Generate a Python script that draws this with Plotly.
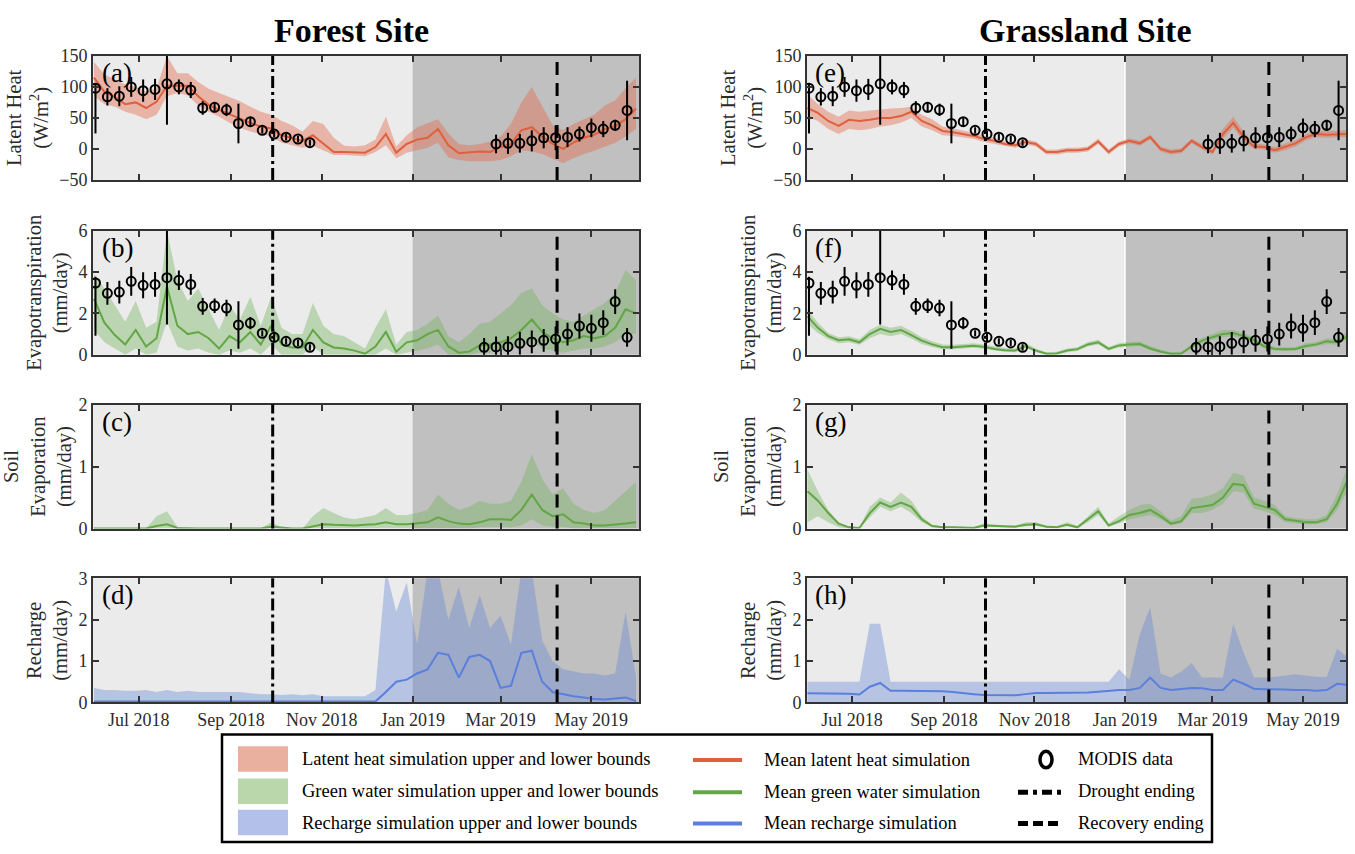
import plotly.graph_objects as go
import pandas as pd

W, H = 1355, 854
SERIF = "Liberation Serif, Times New Roman, serif"
TXT = "#2b2b2b"

# ---------------- dates ----------------
sim_dates = pd.date_range("2018-06-01", periods=53, freq="7D")
modis_dates_2018 = pd.date_range("2018-06-02", periods=19, freq="8D")
modis_le_dates_2019 = pd.date_range("2019-02-26", periods=12, freq="8D")
modis_et_dates_2019 = pd.date_range("2019-02-18", periods=13, freq="8D")
drought_end = "2018-09-29"
recovery_end = "2019-04-08"
wet_start = "2019-01-01"

# ---------------- MODIS data ----------------
modis_le = [98, 84, 85, 100, 94, 96, 105, 100, 95, 66, 67, 63, 41, 44, 30, 24, 19, 16, 10,
            8, 9, 9, 13, 18, 18, 19, 24, 34, 32, 38, 62]
modis_le_err_plus = [8, 14, 16, 16, 18, 17, 66, 12, 13, 11, 8, 10, 32, 7, 5, 5, 5, 5, 5,
                     15, 17, 15, 17, 17, 20, 16, 12, 15, 13, 9, 48]
modis_le_err_minus = [73, 14, 16, 16, 18, 17, 66, 12, 13, 11, 8, 10, 32, 7, 5, 5, 5, 5, 5,
                      15, 17, 15, 17, 17, 20, 16, 12, 15, 13, 9, 48]
modis_et = [3.47, 2.97, 3.03, 3.55, 3.36, 3.4, 3.73, 3.6, 3.4, 2.34, 2.37, 2.26, 1.44, 1.53, 1.04, 0.84, 0.65, 0.57, 0.36,
            0.36, 0.38, 0.39, 0.55, 0.62, 0.7, 0.76, 1.0, 1.39, 1.28, 1.55, 2.57, 0.84]
modis_et_err_plus = [0.3, 0.55, 0.55, 0.7, 0.63, 0.6, 2.27, 0.47, 0.5, 0.4, 0.35, 0.4, 1.15, 0.3, 0.15, 0.25, 0.15, 0.15, 0.15,
                     0.45, 0.5, 0.5, 0.55, 0.55, 0.55, 0.6, 0.55, 0.6, 0.65, 0.6, 0.6, 0.45]
modis_et_err_minus = [2.55, 0.55, 0.55, 0.7, 0.63, 0.6, 2.27, 0.47, 0.5, 0.4, 0.35, 0.4, 1.15, 0.3, 0.15, 0.25, 0.15, 0.15, 0.15,
                      0.45, 0.5, 0.5, 0.55, 0.55, 0.55, 0.6, 0.55, 0.6, 0.65, 0.6, 0.6, 0.45]

# ---------------- Forest site simulations (weekly) ----------------
forest_le_mean = [115, 92, 84, 72, 75, 66, 76, 102, 102, 102, 85, 71, 63, 56, 48, 42, 36, 33, 22, 18,
                  13, 22, 8, -5, -5, -5, -6, 3, 24, -6, 8, 15, 18, 32, 6, -7, -6, -4, -5, 3,
                  8, 30, 35, 20, 8, 0, 10, 18, 23, 32, 37, 48, 65]
forest_le_upper = [140, 120, 112, 104, 100, 92, 98, 150, 122, 122, 108, 97, 90, 84, 77, 68, 60, 55, 45, 38,
                   28, 45, 40, 18, 5, 4, 6, 15, 52, 4, 22, 35, 42, 48, 25, 8, 6, 8, 12, 20,
                   40, 75, 100, 70, 38, 30, 40, 48, 55, 70, 78, 98, 115]
forest_le_lower = [85, 72, 68, 60, 55, 48, 55, 85, 90, 86, 70, 60, 52, 42, 34, 28, 24, 20, 10, 6,
                   2, 5, -2, -10, -10, -11, -12, -5, 6, -15, -6, -2, 2, 10, -14, -18, -20, -20, -20, -18,
                   -12, -2, -4, -8, -15, -23, -15, -8, -3, 3, 10, 20, 32]

forest_et_mean = [2.7, 1.55, 0.95, 0.5, 1.2, 0.4, 0.8, 3.3, 1.4, 1.0, 1.1, 0.8, 0.3, 0.9, 0.6, 1.1, 0.5, 1.4, 0.5, 0.35,
                  0.35, 1.2, 0.6, 0.35, 0.3, 0.2, 0.05, 0.4, 1.1, 0.15, 0.6, 0.7, 1.0, 1.2, 0.4, 0.1, 0.15, 0.45, 0.5, 0.6,
                  0.8, 1.2, 1.7, 1.1, 0.8, 0.6, 0.7, 0.9, 0.8, 0.9, 1.3, 2.2, 2.0]
forest_et_upper = [3.9, 3.2, 2.4, 1.6, 2.6, 1.3, 1.6, 6.0, 3.6, 2.6, 3.2, 2.2, 1.2, 2.4, 1.7, 2.8, 1.4, 2.8, 1.3, 1.0,
                   1.0, 2.5, 1.4, 1.0, 0.9, 0.6, 0.3, 1.3, 2.2, 0.5, 1.1, 1.2, 1.5, 1.9, 0.9, 0.6, 1.0, 1.5, 1.6, 2.0,
                   2.4, 3.0, 3.2, 2.4, 2.0, 1.7, 1.6, 1.9, 2.2, 2.5, 3.0, 4.1, 3.6]
forest_et_lower = [1.2, 0.6, 0.3, 0.0, 0.3, 0.0, 0.1, 1.6, 0.4, 0.2, 0.3, 0.1, 0.0, 0.2, 0.1, 0.3, 0.0, 0.5, 0.0, 0.0,
                   0.0, 0.4, 0.0, 0.0, 0.0, 0.0, 0.0, 0.0, 0.3, 0.0, 0.1, 0.2, 0.3, 0.5, 0.0, 0.0, 0.0, 0.1, 0.1, 0.2,
                   0.3, 0.4, 0.6, 0.3, 0.2, 0.1, 0.2, 0.3, 0.3, 0.4, 0.6, 1.0, 1.0]

forest_se_mean = [0, 0, 0, 0, 0, 0, 0.04, 0.07, 0.01, 0, 0, 0, 0, 0, 0, 0, 0, 0.03, 0.01, 0,
                  0, 0.04, 0.07, 0.06, 0.05, 0.05, 0.06, 0.07, 0.1, 0.07, 0.07, 0.08, 0.1, 0.18, 0.12, 0.08, 0.07, 0.1, 0.15, 0.15,
                  0.14, 0.3, 0.55, 0.3, 0.2, 0.23, 0.1, 0.08, 0.05, 0.05, 0.06, 0.08, 0.1]
forest_se_upper = [0, 0, 0, 0, 0, 0, 0.2, 0.28, 0.03, 0, 0, 0, 0, 0, 0, 0, 0, 0.1, 0.02, 0,
                   0, 0.2, 0.33, 0.25, 0.18, 0.15, 0.18, 0.22, 0.33, 0.22, 0.22, 0.25, 0.3, 0.55, 0.4, 0.3, 0.35, 0.45, 0.4, 0.4,
                   0.45, 0.75, 1.2, 0.8, 0.55, 0.65, 0.4, 0.3, 0.25, 0.3, 0.45, 0.6, 0.75]
forest_se_lower = [0, 0, 0, 0, 0, 0, 0, 0, 0, 0, 0, 0, 0, 0, 0, 0, 0, 0, 0, 0,
                   0, 0, 0, 0, 0, 0, 0, 0, 0, 0, 0, 0, 0, 0, 0, 0, 0, 0.02, 0.03, 0.03,
                   0.02, 0.05, 0.15, 0.05, 0.03, 0.03, 0, 0, 0, 0, 0, 0, 0]

forest_rc_mean = [0.02, 0.02, 0.02, 0.02, 0.02, 0.02, 0.02, 0.02, 0.02, 0.02, 0.02, 0.02, 0.02, 0.02, 0.02, 0.02, 0.02, 0.02, 0.02, 0.02,
                  0.02, 0.02, 0.02, 0.02, 0.02, 0.02, 0.02, 0.02, 0.25, 0.5, 0.55, 0.7, 0.8, 1.2, 1.15, 0.6, 1.1, 1.15, 1.0, 0.35,
                  0.4, 1.2, 1.25, 0.5, 0.25, 0.2, 0.15, 0.12, 0.08, 0.07, 0.1, 0.12, 0.03]
forest_rc_upper = [0.35, 0.3, 0.3, 0.28, 0.28, 0.3, 0.25, 0.3, 0.25, 0.28, 0.25, 0.25, 0.25, 0.25, 0.25, 0.22, 0.2, 0.2, 0.18, 0.2,
                   0.17, 0.2, 0.15, 0.15, 0.15, 0.15, 0.15, 0.3, 3.2, 2.2, 2.9, 1.4, 3.2, 3.2, 2.0, 2.8, 1.8, 2.6, 1.8, 2.1,
                   1.4, 3.2, 3.2, 1.5, 1.0, 0.8, 0.75, 0.7, 0.7, 0.65, 0.7, 2.2, 0.6]
forest_rc_lower = [0, 0, 0, 0, 0, 0, 0, 0, 0, 0, 0, 0, 0, 0, 0, 0, 0, 0, 0, 0,
                   0, 0, 0, 0, 0, 0, 0, 0, 0, 0, 0, 0, 0, 0, 0, 0, 0, 0, 0, 0,
                   0, 0, 0, 0, 0, 0, 0, 0, 0, 0, 0, 0, 0]

# ---------------- Grassland site simulations (weekly) ----------------
grass_le_mean = [66, 58, 45, 37, 47, 45, 47, 50, 50, 53, 60, 45, 38, 29, 27, 24, 21, 16, 13, 8,
                 6, 11, 8, -5, -5, -2, -2, 0, 12, -5, 8, 13, 9, 19, 0, -5, -3, 13, 3, -5,
                 24, 42, 19, 4, 3, -2, 3, 9, 19, 24, 23, 24, 24]
grass_le_upper = [88, 72, 60, 52, 62, 60, 62, 64, 65, 66, 68, 55, 48, 36, 33, 30, 26, 21, 18, 12,
                  10, 15, 12, -1, -1, 2, 2, 4, 17, -1, 12, 17, 13, 23, 4, -1, 1, 17, 7, -1,
                  32, 52, 28, 9, 7, 3, 8, 14, 24, 30, 29, 30, 30]
grass_le_lower = [52, 45, 32, 24, 32, 30, 32, 36, 38, 42, 50, 36, 30, 22, 21, 18, 16, 11, 8, 4,
                  2, 7, 4, -9, -9, -6, -6, -4, 8, -9, 4, 9, 5, 15, -4, -9, -7, 9, -1, -9,
                  16, 34, 12, 0, -1, -6, -2, 4, 14, 19, 18, 19, 19]

grass_et_mean = [1.86, 1.3, 0.9, 0.7, 0.75, 0.6, 1.0, 1.25, 1.1, 1.2, 0.95, 0.68, 0.5, 0.36, 0.36, 0.4, 0.44, 0.38, 0.28, 0.22,
                 0.2, 0.42, 0.2, 0.05, 0.06, 0.2, 0.27, 0.5, 0.6, 0.28, 0.45, 0.5, 0.52, 0.3, 0.15, 0.05, 0.06, 0.4, 0.68, 0.85,
                 1.0, 1.05, 0.9, 0.7, 0.4, 0.28, 0.26, 0.28, 0.42, 0.5, 0.65, 0.6, 0.9]
grass_et_upper = [2.2, 1.55, 1.05, 0.85, 0.9, 0.75, 1.2, 1.45, 1.3, 1.4, 1.15, 0.85, 0.65, 0.5, 0.48, 0.52, 0.56, 0.5, 0.4, 0.33,
                  0.3, 0.55, 0.3, 0.12, 0.14, 0.3, 0.36, 0.62, 0.72, 0.38, 0.56, 0.62, 0.64, 0.42, 0.25, 0.12, 0.14, 0.52, 0.82, 1.0,
                  1.2, 1.2, 1.05, 0.82, 0.52, 0.38, 0.36, 0.38, 0.55, 0.62, 0.8, 0.75, 1.1]
grass_et_lower = [1.5, 1.05, 0.75, 0.55, 0.6, 0.48, 0.8, 1.0, 0.9, 1.0, 0.78, 0.52, 0.38, 0.26, 0.26, 0.3, 0.34, 0.28, 0.2, 0.14,
                  0.12, 0.32, 0.12, 0.02, 0.02, 0.12, 0.18, 0.4, 0.5, 0.2, 0.35, 0.4, 0.42, 0.22, 0.08, 0.02, 0.02, 0.3, 0.55, 0.72,
                  0.85, 0.9, 0.75, 0.58, 0.3, 0.2, 0.18, 0.2, 0.32, 0.4, 0.52, 0.48, 0.75]

grass_se_mean = [0.6, 0.45, 0.25, 0.08, 0.02, 0.01, 0.25, 0.42, 0.35, 0.42, 0.35, 0.15, 0.04, 0.02, 0.02, 0.02, 0.01, 0.05, 0.04, 0.03,
                 0.03, 0.06, 0.07, 0.03, 0.02, 0.06, 0.02, 0.15, 0.28, 0.05, 0.12, 0.22, 0.25, 0.3, 0.2, 0.08, 0.12, 0.33, 0.35, 0.38,
                 0.5, 0.72, 0.7, 0.4, 0.35, 0.3, 0.15, 0.12, 0.1, 0.1, 0.15, 0.4, 0.78]
grass_se_upper = [0.95, 0.6, 0.3, 0.1, 0.03, 0.02, 0.35, 0.5, 0.42, 0.58, 0.45, 0.2, 0.06, 0.03, 0.03, 0.03, 0.03, 0.08, 0.06, 0.05,
                  0.05, 0.1, 0.1, 0.05, 0.04, 0.1, 0.04, 0.2, 0.35, 0.08, 0.2, 0.3, 0.38, 0.4, 0.28, 0.13, 0.2, 0.48, 0.5, 0.55,
                  0.65, 0.9, 0.85, 0.5, 0.45, 0.38, 0.2, 0.17, 0.15, 0.15, 0.22, 0.55, 1.0]
grass_se_lower = [0.1, 0.2, 0.1, 0.02, 0.0, 0.0, 0.18, 0.35, 0.28, 0.35, 0.25, 0.1, 0.02, 0.01, 0.01, 0.01, 0.01, 0.03, 0.02, 0.02,
                  0.02, 0.04, 0.05, 0.02, 0.01, 0.04, 0.01, 0.1, 0.22, 0.03, 0.08, 0.15, 0.18, 0.22, 0.15, 0.05, 0.08, 0.25, 0.25, 0.3,
                  0.4, 0.6, 0.58, 0.32, 0.28, 0.22, 0.1, 0.08, 0.07, 0.07, 0.1, 0.3, 0.6]

grass_rc_mean = [0.22, 0.22, 0.22, 0.22, 0.21, 0.19, 0.38, 0.47, 0.28, 0.28, 0.28, 0.28, 0.27, 0.27, 0.25, 0.22, 0.2, 0.18, 0.18, 0.17,
                 0.17, 0.2, 0.23, 0.23, 0.23, 0.23, 0.23, 0.24, 0.26, 0.28, 0.3, 0.3, 0.35, 0.6, 0.35, 0.3, 0.32, 0.35, 0.34, 0.3,
                 0.3, 0.55, 0.45, 0.33, 0.32, 0.32, 0.31, 0.3, 0.3, 0.28, 0.3, 0.45, 0.42]
grass_rc_upper = [0.5, 0.5, 0.5, 0.5, 0.5, 0.5, 1.9, 1.9, 0.5, 0.5, 0.5, 0.5, 0.5, 0.5, 0.5, 0.5, 0.5, 0.5, 0.5, 0.5,
                  0.5, 0.5, 0.5, 0.5, 0.5, 0.5, 0.5, 0.5, 0.5, 0.5, 0.8, 0.55, 1.65, 2.3, 0.7, 0.6, 0.75, 0.95, 0.6, 0.6,
                  0.6, 1.9, 1.2, 0.6, 0.6, 0.62, 0.65, 0.68, 0.65, 0.62, 0.62, 1.3, 1.1]
grass_rc_lower = [0, 0, 0, 0, 0, 0, 0, 0, 0, 0, 0, 0, 0, 0, 0, 0, 0, 0, 0, 0,
                  0, 0, 0, 0, 0, 0, 0, 0, 0, 0, 0, 0, 0, 0, 0, 0, 0, 0, 0, 0,
                  0, 0, 0, 0, 0, 0, 0, 0, 0, 0, 0, 0, 0]

# ---------------- styling ----------------
LE_BAND, LE_LINE = "rgba(226,105,75,0.42)", "#de603c"
GW_BAND, GW_LINE = "rgba(110,175,85,0.38)", "#62a646"
RC_BAND, RC_LINE = "rgba(105,135,215,0.40)", "#5a7fdc"

def px(x):
    return x / W

def py(y):
    return 1 - y / H

left_dom = [px(93), px(639)]
right_dom = [px(807), px(1346)]
left_range = ["2018-05-31 08:00", "2019-06-02"]
right_range = ["2018-05-31 16:00", "2019-05-30"]
row_px = [(47, 174), (226, 353), (404, 531), (582, 709)]

tick_dates = ["2018-07-01", "2018-09-01", "2018-11-01", "2019-01-01", "2019-03-01", "2019-05-01"]
tick_text = ["Jul 2018", "Sep 2018", "Nov 2018", "Jan 2019", "Mar 2019", "May 2019"]

panels = [
    (1, 0, 0, forest_le_mean, forest_le_upper, forest_le_lower, LE_BAND, LE_LINE, [-50, 150], [-50, 0, 50, 100, 150],
     "Latent Heat<br>(W/m<sup>2</sup>)", "(a)", "le"),
    (2, 0, 1, forest_et_mean, forest_et_upper, forest_et_lower, GW_BAND, GW_LINE, [0, 6], [0, 2, 4, 6],
     "Evapotranspiration<br>(mm/day)", "(b)", "et"),
    (3, 0, 2, forest_se_mean, forest_se_upper, forest_se_lower, GW_BAND, GW_LINE, [0, 2], [0, 1, 2],
     "Soil<br>Evaporation<br>(mm/day)", "(c)", None),
    (4, 0, 3, forest_rc_mean, forest_rc_upper, forest_rc_lower, RC_BAND, RC_LINE, [0, 3], [0, 1, 2, 3],
     "Recharge<br>(mm/day)", "(d)", None),
    (5, 1, 0, grass_le_mean, grass_le_upper, grass_le_lower, LE_BAND, LE_LINE, [-50, 150], [-50, 0, 50, 100, 150],
     "Latent Heat<br>(W/m<sup>2</sup>)", "(e)", "le"),
    (6, 1, 1, grass_et_mean, grass_et_upper, grass_et_lower, GW_BAND, GW_LINE, [0, 6], [0, 2, 4, 6],
     "Evapotranspiration<br>(mm/day)", "(f)", "et"),
    (7, 1, 2, grass_se_mean, grass_se_upper, grass_se_lower, GW_BAND, GW_LINE, [0, 2], [0, 1, 2],
     "Soil<br>Evaporation<br>(mm/day)", "(g)", None),
    (8, 1, 3, grass_rc_mean, grass_rc_upper, grass_rc_lower, RC_BAND, RC_LINE, [0, 3], [0, 1, 2, 3],
     "Recharge<br>(mm/day)", "(h)", None),
]

fig = go.Figure()
shapes = []
annotations = []
layout_axes = {}

modis_le_x = list(modis_dates_2018) + list(modis_le_dates_2019)
modis_et_x = list(modis_dates_2018) + list(modis_et_dates_2019)

for idx, col, row, mean, upper, lower, band, line, yr, yt, ytitle, label, modis in panels:
    xa = "x" if idx == 1 else f"x{idx}"
    ya = "y" if idx == 1 else f"y{idx}"
    xkey = "xaxis" if idx == 1 else f"xaxis{idx}"
    ykey = "yaxis" if idx == 1 else f"yaxis{idx}"
    rng = left_range if col == 0 else right_range
    top, bot = row_px[row]

    fig.add_trace(go.Scatter(x=sim_dates, y=lower, mode="lines", line=dict(width=0, color=band),
                             xaxis=xa, yaxis=ya, showlegend=False, hoverinfo="skip"))
    fig.add_trace(go.Scatter(x=sim_dates, y=upper, mode="lines", line=dict(width=0, color=band),
                             fill="tonexty", fillcolor=band, xaxis=xa, yaxis=ya, showlegend=False, hoverinfo="skip"))
    fig.add_trace(go.Scatter(x=sim_dates, y=mean, mode="lines", line=dict(width=2, color=line),
                             xaxis=xa, yaxis=ya, showlegend=False))
    if modis == "le":
        fig.add_trace(go.Scatter(x=modis_le_x, y=modis_le, mode="markers",
                                 marker=dict(symbol="circle-open", size=9, color="black", line=dict(width=2, color="black")),
                                 error_y=dict(type="data", array=modis_le_err_plus, arrayminus=modis_le_err_minus,
                                              symmetric=False, thickness=2, width=0, color="black"),
                                 xaxis=xa, yaxis=ya, showlegend=False))
    elif modis == "et":
        fig.add_trace(go.Scatter(x=modis_et_x, y=modis_et, mode="markers",
                                 marker=dict(symbol="circle-open", size=9, color="black", line=dict(width=2, color="black")),
                                 error_y=dict(type="data", array=modis_et_err_plus, arrayminus=modis_et_err_minus,
                                              symmetric=False, thickness=2, width=0, color="black"),
                                 xaxis=xa, yaxis=ya, showlegend=False))

    layout_axes[xkey] = dict(
        domain=left_dom if col == 0 else right_dom, range=rng, type="date", anchor=ya,
        tickvals=tick_dates, ticktext=tick_text, showticklabels=(row == 3),
        ticks="inside", ticklen=6, tickwidth=1.5, tickcolor="#333", mirror="ticks",
        showline=True, linecolor="#333", linewidth=2, showgrid=False, zeroline=False,
        tickfont=dict(family=SERIF, size=18, color=TXT),
    )
    layout_axes[ykey] = dict(
        domain=[py(bot), py(top)], range=yr, anchor=xa, tickvals=yt,
        ticks="inside", ticklen=6, tickwidth=1.5, tickcolor="#333", mirror="ticks",
        showline=True, linecolor="#333", linewidth=2, showgrid=False, zeroline=False,
        tickfont=dict(family=SERIF, size=18, color=TXT),
        title=dict(text=ytitle, font=dict(family=SERIF, size=20.5, color=TXT), standoff=5),
    )

    shapes.append(dict(type="rect", xref=xa, yref=f"{ya} domain", x0=wet_start, x1=rng[1], y0=0, y1=1,
                       fillcolor="#c0c0c0", line=dict(width=0), layer="below"))
    if col == 1:
        shapes.append(dict(type="line", xref=xa, yref=f"{ya} domain", x0=wet_start, x1=wet_start, y0=0, y1=1,
                           line=dict(color="white", width=1.5), layer="below"))
    shapes.append(dict(type="line", xref=xa, yref=f"{ya} domain", x0=drought_end, x1=drought_end, y0=0, y1=1,
                       line=dict(color="black", width=3, dash="12px,4px,3px,4px"), layer="above"))
    shapes.append(dict(type="line", xref=xa, yref=f"{ya} domain", x0=recovery_end, x1=recovery_end, y0=0, y1=1,
                       line=dict(color="black", width=3, dash="13px,8px"), layer="above"))
    annotations.append(dict(text=label, xref=f"{xa} domain", yref=f"{ya} domain", x=0.012, y=1.0,
                            xanchor="left", yanchor="top", showarrow=False,
                            font=dict(family=SERIF, size=27, color="black")))

annotations.append(dict(text="<b>Forest Site</b>", xref="paper", yref="paper", x=px(352), y=py(21),
                        xanchor="center", yanchor="middle", showarrow=False,
                        font=dict(family=SERIF, size=34, color="black")))
annotations.append(dict(text="<b>Grassland Site</b>", xref="paper", yref="paper", x=px(1085), y=py(21),
                        xanchor="center", yanchor="middle", showarrow=False,
                        font=dict(family=SERIF, size=34, color="black")))

# ---------------- legend (drawn manually) ----------------
shapes.append(dict(type="rect", xref="paper", yref="paper", x0=px(222), x1=px(1212), y0=py(852), y1=py(742),
                   line=dict(color="black", width=2.5), fillcolor="white", layer="above"))
legend_rows = [767, 800, 832]
swatches = ["#e9b0a0", "#bad7ab", "#b3c1ea"]
swatch_text = ["Latent heat simulation upper and lower bounds",
               "Green water simulation upper and lower bounds",
               "Recharge simulation upper and lower bounds"]
mean_colors = [LE_LINE, GW_LINE, RC_LINE]
mean_text = ["Mean latent heat simulation", "Mean green water simulation", "Mean recharge simulation"]
right_text = ["MODIS data", "Drought ending", "Recovery ending"]
LEG_FONT = dict(family=SERIF, size=18.5, color="black")
for i, yc in enumerate(legend_rows):
    shapes.append(dict(type="rect", xref="paper", yref="paper", x0=px(238), x1=px(288), y0=py(yc + 13), y1=py(yc - 13),
                       fillcolor=swatches[i], line=dict(width=0), layer="above"))
    annotations.append(dict(text=swatch_text[i], xref="paper", yref="paper", x=px(300), y=py(yc),
                            xanchor="left", yanchor="middle", showarrow=False, font=LEG_FONT))
    shapes.append(dict(type="line", xref="paper", yref="paper", x0=px(693), x1=px(742), y0=py(yc + 1), y1=py(yc + 1),
                       line=dict(color=mean_colors[i], width=4), layer="above"))
    annotations.append(dict(text=mean_text[i], xref="paper", yref="paper", x=px(762), y=py(yc + 1),
                            xanchor="left", yanchor="middle", showarrow=False, font=LEG_FONT))
    annotations.append(dict(text=right_text[i], xref="paper", yref="paper", x=px(1076), y=py(yc),
                            xanchor="left", yanchor="middle", showarrow=False, font=LEG_FONT))
shapes.append(dict(type="circle", xref="paper", yref="paper", x0=px(1040), x1=px(1052), y0=py(776), y1=py(759),
                   line=dict(color="black", width=3.5), fillcolor="rgba(0,0,0,0)", layer="above"))
shapes.append(dict(type="line", xref="paper", yref="paper", x0=px(1018), x1=px(1062), y0=py(801), y1=py(801),
                   line=dict(color="black", width=5, dash="10px,5px,4px,5px"), layer="above"))
shapes.append(dict(type="line", xref="paper", yref="paper", x0=px(1018), x1=px(1062), y0=py(833), y1=py(833),
                   line=dict(color="black", width=5, dash="10px,5px"), layer="above"))

fig.update_layout(
    width=W, height=H, margin=dict(l=0, r=0, t=0, b=0),
    paper_bgcolor="white", plot_bgcolor="#ebebeb",
    showlegend=False, shapes=shapes, annotations=annotations,
    font=dict(family=SERIF, color=TXT),
    **layout_axes,
)

fig.write_html("out.html")
